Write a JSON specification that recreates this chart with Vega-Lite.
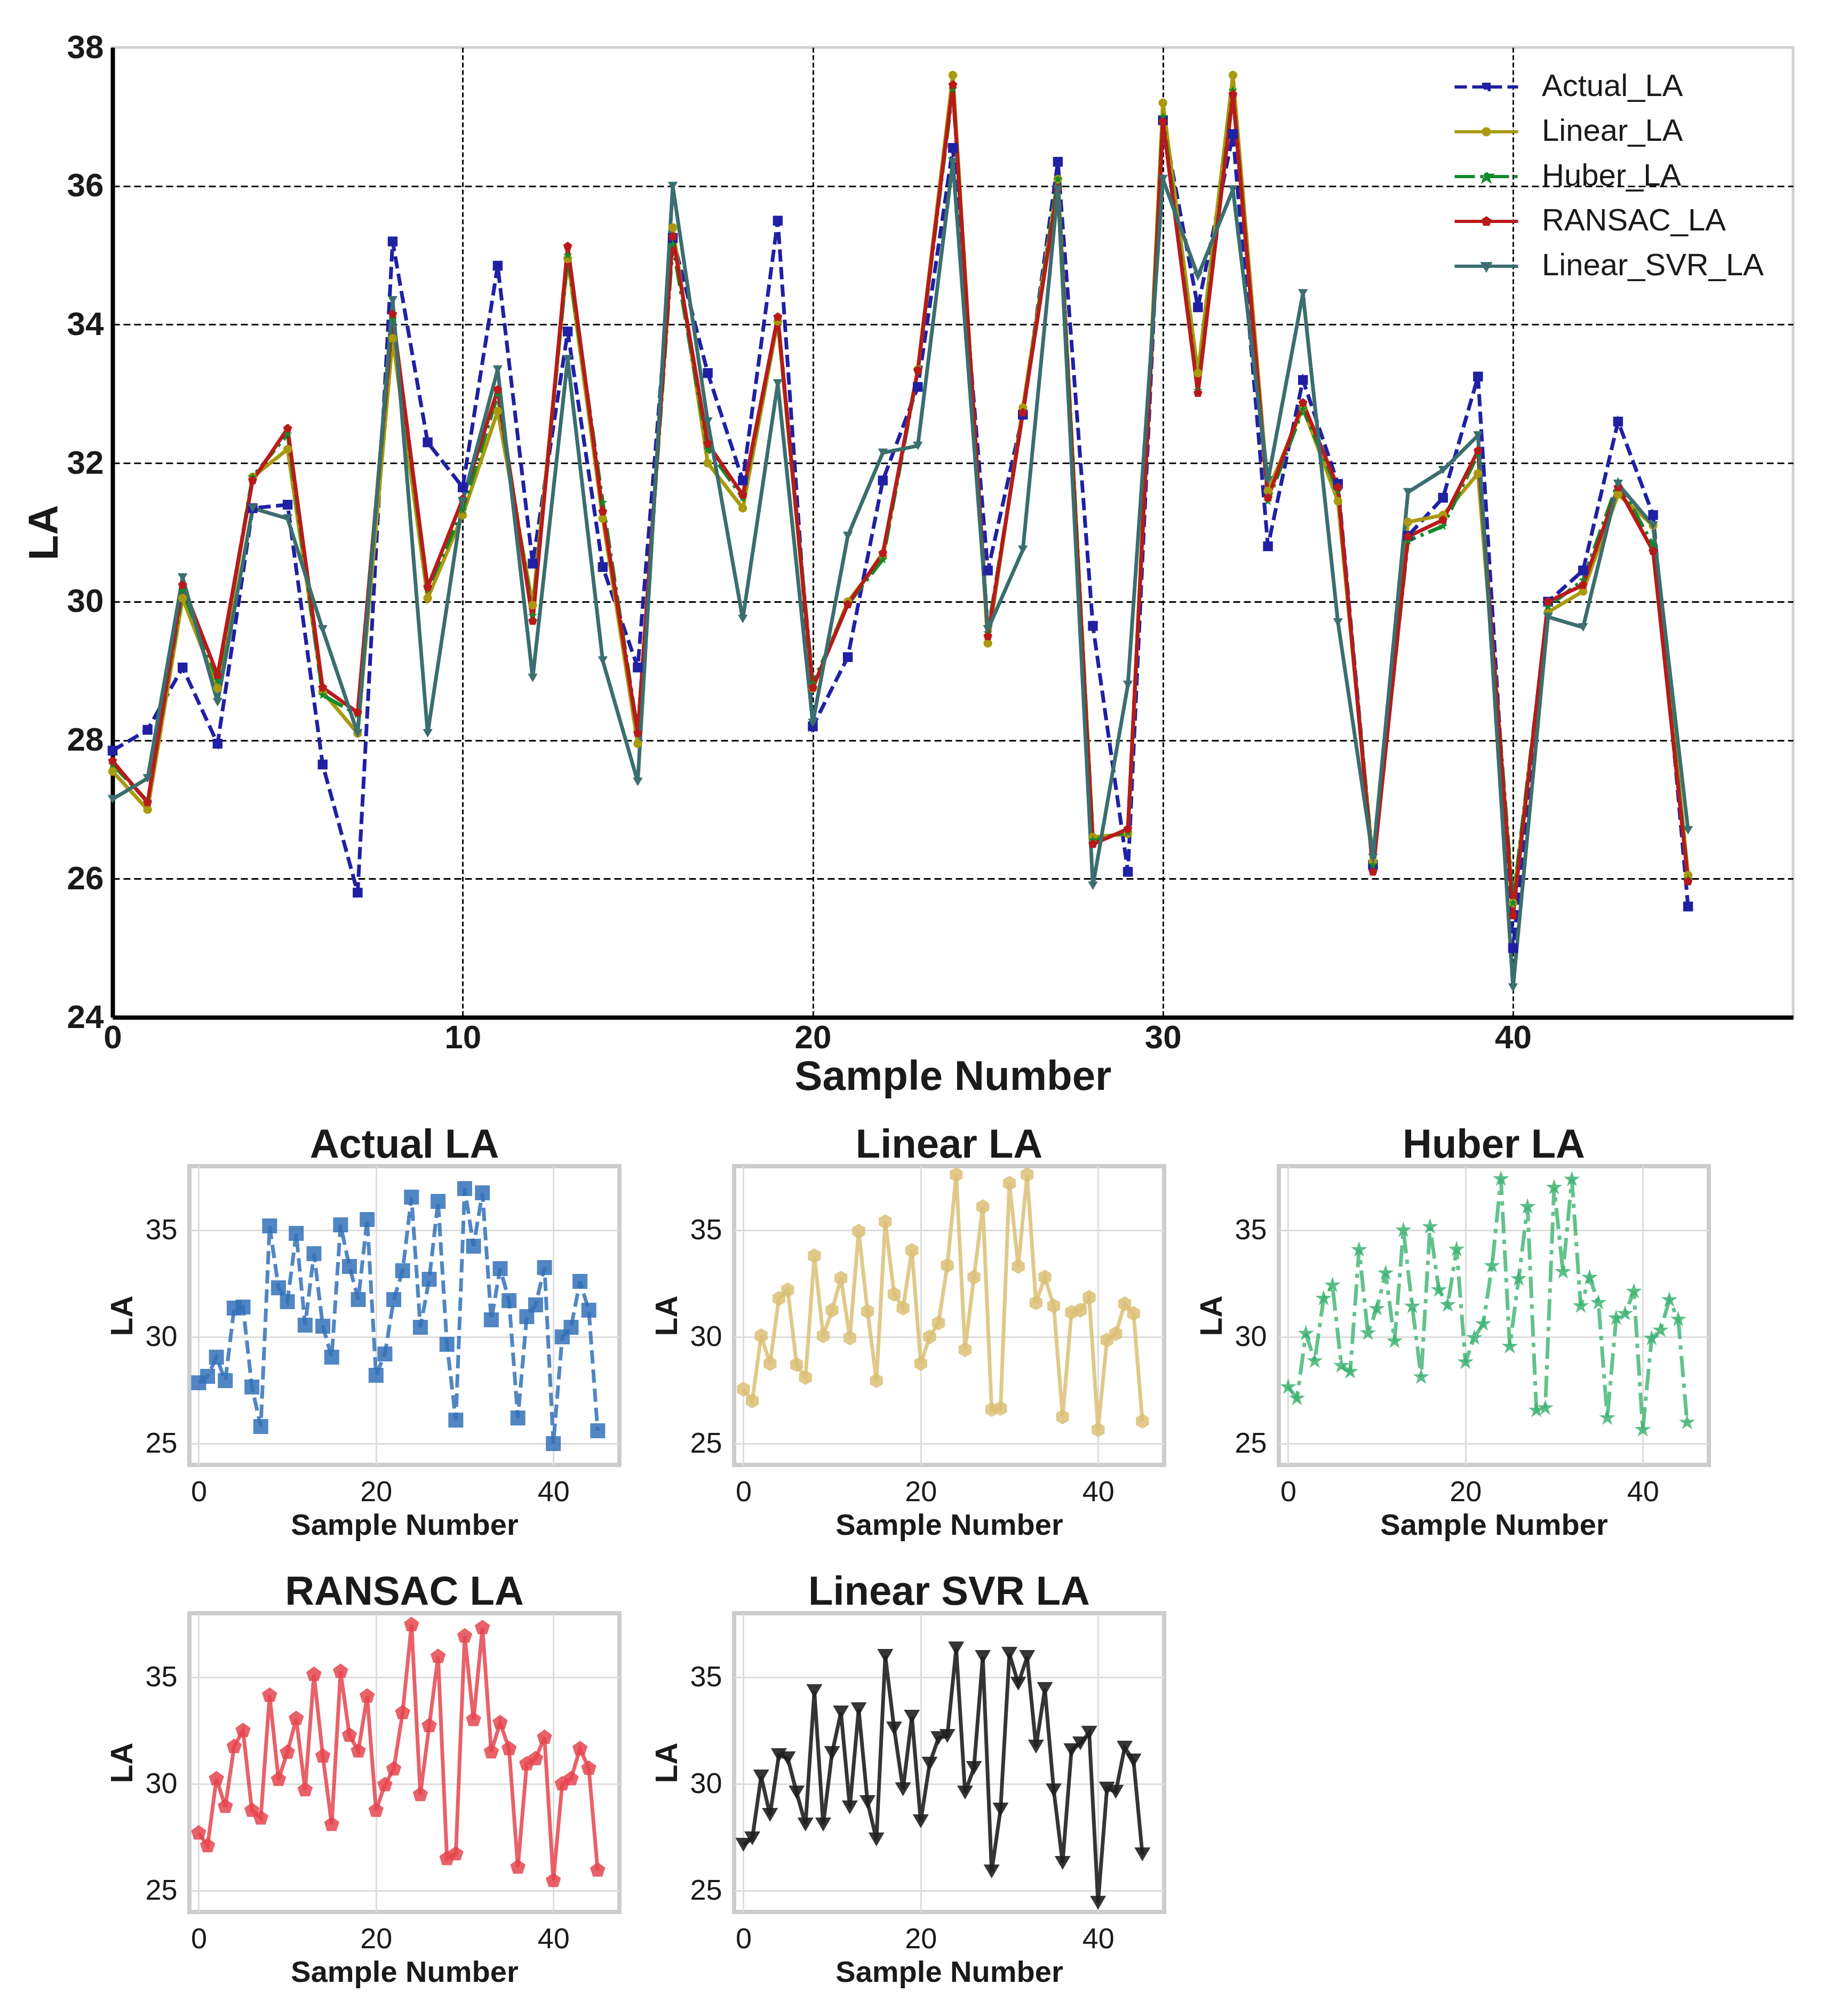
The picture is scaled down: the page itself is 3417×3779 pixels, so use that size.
{
  "$schema": "https://vega.github.io/schema/vega-lite/v6.json",
  "background": "white",
  "padding": {"left": 42, "top": 55, "right": 10, "bottom": 10},
  "config": {"font": "Liberation Sans"},
  "datasets": {
    "la": [
      {"sample":0,"model":"Actual_LA","LA":27.85},{"sample":1,"model":"Actual_LA","LA":28.15},{"sample":2,"model":"Actual_LA","LA":29.05},{"sample":3,"model":"Actual_LA","LA":27.95},{"sample":4,"model":"Actual_LA","LA":31.35},{"sample":5,"model":"Actual_LA","LA":31.4},{"sample":6,"model":"Actual_LA","LA":27.65},{"sample":7,"model":"Actual_LA","LA":25.8},{"sample":8,"model":"Actual_LA","LA":35.2},{"sample":9,"model":"Actual_LA","LA":32.3},{"sample":10,"model":"Actual_LA","LA":31.65},{"sample":11,"model":"Actual_LA","LA":34.85},{"sample":12,"model":"Actual_LA","LA":30.55},{"sample":13,"model":"Actual_LA","LA":33.9},{"sample":14,"model":"Actual_LA","LA":30.5},{"sample":15,"model":"Actual_LA","LA":29.05},{"sample":16,"model":"Actual_LA","LA":35.25},{"sample":17,"model":"Actual_LA","LA":33.3},{"sample":18,"model":"Actual_LA","LA":31.75},{"sample":19,"model":"Actual_LA","LA":35.5},{"sample":20,"model":"Actual_LA","LA":28.2},{"sample":21,"model":"Actual_LA","LA":29.2},{"sample":22,"model":"Actual_LA","LA":31.75},{"sample":23,"model":"Actual_LA","LA":33.1},{"sample":24,"model":"Actual_LA","LA":36.55},{"sample":25,"model":"Actual_LA","LA":30.45},{"sample":26,"model":"Actual_LA","LA":32.7},{"sample":27,"model":"Actual_LA","LA":36.35},{"sample":28,"model":"Actual_LA","LA":29.65},{"sample":29,"model":"Actual_LA","LA":26.1},{"sample":30,"model":"Actual_LA","LA":36.95},{"sample":31,"model":"Actual_LA","LA":34.25},{"sample":32,"model":"Actual_LA","LA":36.75},{"sample":33,"model":"Actual_LA","LA":30.8},{"sample":34,"model":"Actual_LA","LA":33.2},{"sample":35,"model":"Actual_LA","LA":31.7},{"sample":36,"model":"Actual_LA","LA":26.2},{"sample":37,"model":"Actual_LA","LA":30.95},{"sample":38,"model":"Actual_LA","LA":31.5},{"sample":39,"model":"Actual_LA","LA":33.25},{"sample":40,"model":"Actual_LA","LA":25.0},{"sample":41,"model":"Actual_LA","LA":30.0},{"sample":42,"model":"Actual_LA","LA":30.45},{"sample":43,"model":"Actual_LA","LA":32.6},{"sample":44,"model":"Actual_LA","LA":31.25},{"sample":45,"model":"Actual_LA","LA":25.6},
      {"sample":0,"model":"Linear_LA","LA":27.55},{"sample":1,"model":"Linear_LA","LA":27.0},{"sample":2,"model":"Linear_LA","LA":30.05},{"sample":3,"model":"Linear_LA","LA":28.75},{"sample":4,"model":"Linear_LA","LA":31.8},{"sample":5,"model":"Linear_LA","LA":32.2},{"sample":6,"model":"Linear_LA","LA":28.7},{"sample":7,"model":"Linear_LA","LA":28.1},{"sample":8,"model":"Linear_LA","LA":33.8},{"sample":9,"model":"Linear_LA","LA":30.05},{"sample":10,"model":"Linear_LA","LA":31.25},{"sample":11,"model":"Linear_LA","LA":32.75},{"sample":12,"model":"Linear_LA","LA":29.95},{"sample":13,"model":"Linear_LA","LA":34.95},{"sample":14,"model":"Linear_LA","LA":31.2},{"sample":15,"model":"Linear_LA","LA":27.95},{"sample":16,"model":"Linear_LA","LA":35.4},{"sample":17,"model":"Linear_LA","LA":32.0},{"sample":18,"model":"Linear_LA","LA":31.35},{"sample":19,"model":"Linear_LA","LA":34.05},{"sample":20,"model":"Linear_LA","LA":28.75},{"sample":21,"model":"Linear_LA","LA":30.0},{"sample":22,"model":"Linear_LA","LA":30.65},{"sample":23,"model":"Linear_LA","LA":33.35},{"sample":24,"model":"Linear_LA","LA":37.6},{"sample":25,"model":"Linear_LA","LA":29.4},{"sample":26,"model":"Linear_LA","LA":32.8},{"sample":27,"model":"Linear_LA","LA":36.1},{"sample":28,"model":"Linear_LA","LA":26.6},{"sample":29,"model":"Linear_LA","LA":26.65},{"sample":30,"model":"Linear_LA","LA":37.2},{"sample":31,"model":"Linear_LA","LA":33.3},{"sample":32,"model":"Linear_LA","LA":37.6},{"sample":33,"model":"Linear_LA","LA":31.6},{"sample":34,"model":"Linear_LA","LA":32.8},{"sample":35,"model":"Linear_LA","LA":31.45},{"sample":36,"model":"Linear_LA","LA":26.25},{"sample":37,"model":"Linear_LA","LA":31.15},{"sample":38,"model":"Linear_LA","LA":31.25},{"sample":39,"model":"Linear_LA","LA":31.85},{"sample":40,"model":"Linear_LA","LA":25.65},{"sample":41,"model":"Linear_LA","LA":29.85},{"sample":42,"model":"Linear_LA","LA":30.15},{"sample":43,"model":"Linear_LA","LA":31.55},{"sample":44,"model":"Linear_LA","LA":31.1},{"sample":45,"model":"Linear_LA","LA":26.05},
      {"sample":0,"model":"Huber_LA","LA":27.65},{"sample":1,"model":"Huber_LA","LA":27.12},{"sample":2,"model":"Huber_LA","LA":30.16},{"sample":3,"model":"Huber_LA","LA":28.87},{"sample":4,"model":"Huber_LA","LA":31.8},{"sample":5,"model":"Huber_LA","LA":32.42},{"sample":6,"model":"Huber_LA","LA":28.65},{"sample":7,"model":"Huber_LA","LA":28.37},{"sample":8,"model":"Huber_LA","LA":34.08},{"sample":9,"model":"Huber_LA","LA":30.18},{"sample":10,"model":"Huber_LA","LA":31.32},{"sample":11,"model":"Huber_LA","LA":32.99},{"sample":12,"model":"Huber_LA","LA":29.8},{"sample":13,"model":"Huber_LA","LA":35.0},{"sample":14,"model":"Huber_LA","LA":31.43},{"sample":15,"model":"Huber_LA","LA":28.12},{"sample":16,"model":"Huber_LA","LA":35.16},{"sample":17,"model":"Huber_LA","LA":32.2},{"sample":18,"model":"Huber_LA","LA":31.5},{"sample":19,"model":"Huber_LA","LA":34.1},{"sample":20,"model":"Huber_LA","LA":28.82},{"sample":21,"model":"Huber_LA","LA":29.96},{"sample":22,"model":"Huber_LA","LA":30.61},{"sample":23,"model":"Huber_LA","LA":33.33},{"sample":24,"model":"Huber_LA","LA":37.4},{"sample":25,"model":"Huber_LA","LA":29.55},{"sample":26,"model":"Huber_LA","LA":32.72},{"sample":27,"model":"Huber_LA","LA":36.1},{"sample":28,"model":"Huber_LA","LA":26.56},{"sample":29,"model":"Huber_LA","LA":26.67},{"sample":30,"model":"Huber_LA","LA":37.0},{"sample":31,"model":"Huber_LA","LA":33.05},{"sample":32,"model":"Huber_LA","LA":37.38},{"sample":33,"model":"Huber_LA","LA":31.45},{"sample":34,"model":"Huber_LA","LA":32.78},{"sample":35,"model":"Huber_LA","LA":31.6},{"sample":36,"model":"Huber_LA","LA":26.2},{"sample":37,"model":"Huber_LA","LA":30.88},{"sample":38,"model":"Huber_LA","LA":31.09},{"sample":39,"model":"Huber_LA","LA":32.13},{"sample":40,"model":"Huber_LA","LA":25.65},{"sample":41,"model":"Huber_LA","LA":29.93},{"sample":42,"model":"Huber_LA","LA":30.31},{"sample":43,"model":"Huber_LA","LA":31.73},{"sample":44,"model":"Huber_LA","LA":30.82},{"sample":45,"model":"Huber_LA","LA":25.99},
      {"sample":0,"model":"RANSAC_LA","LA":27.7},{"sample":1,"model":"RANSAC_LA","LA":27.1},{"sample":2,"model":"RANSAC_LA","LA":30.24},{"sample":3,"model":"RANSAC_LA","LA":28.94},{"sample":4,"model":"RANSAC_LA","LA":31.75},{"sample":5,"model":"RANSAC_LA","LA":32.5},{"sample":6,"model":"RANSAC_LA","LA":28.76},{"sample":7,"model":"RANSAC_LA","LA":28.4},{"sample":8,"model":"RANSAC_LA","LA":34.15},{"sample":9,"model":"RANSAC_LA","LA":30.21},{"sample":10,"model":"RANSAC_LA","LA":31.48},{"sample":11,"model":"RANSAC_LA","LA":33.06},{"sample":12,"model":"RANSAC_LA","LA":29.72},{"sample":13,"model":"RANSAC_LA","LA":35.13},{"sample":14,"model":"RANSAC_LA","LA":31.3},{"sample":15,"model":"RANSAC_LA","LA":28.1},{"sample":16,"model":"RANSAC_LA","LA":35.27},{"sample":17,"model":"RANSAC_LA","LA":32.28},{"sample":18,"model":"RANSAC_LA","LA":31.54},{"sample":19,"model":"RANSAC_LA","LA":34.11},{"sample":20,"model":"RANSAC_LA","LA":28.76},{"sample":21,"model":"RANSAC_LA","LA":29.96},{"sample":22,"model":"RANSAC_LA","LA":30.7},{"sample":23,"model":"RANSAC_LA","LA":33.34},{"sample":24,"model":"RANSAC_LA","LA":37.46},{"sample":25,"model":"RANSAC_LA","LA":29.5},{"sample":26,"model":"RANSAC_LA","LA":32.73},{"sample":27,"model":"RANSAC_LA","LA":35.97},{"sample":28,"model":"RANSAC_LA","LA":26.5},{"sample":29,"model":"RANSAC_LA","LA":26.72},{"sample":30,"model":"RANSAC_LA","LA":36.93},{"sample":31,"model":"RANSAC_LA","LA":33.01},{"sample":32,"model":"RANSAC_LA","LA":37.32},{"sample":33,"model":"RANSAC_LA","LA":31.5},{"sample":34,"model":"RANSAC_LA","LA":32.87},{"sample":35,"model":"RANSAC_LA","LA":31.65},{"sample":36,"model":"RANSAC_LA","LA":26.1},{"sample":37,"model":"RANSAC_LA","LA":30.94},{"sample":38,"model":"RANSAC_LA","LA":31.18},{"sample":39,"model":"RANSAC_LA","LA":32.18},{"sample":40,"model":"RANSAC_LA","LA":25.47},{"sample":41,"model":"RANSAC_LA","LA":30.0},{"sample":42,"model":"RANSAC_LA","LA":30.24},{"sample":43,"model":"RANSAC_LA","LA":31.65},{"sample":44,"model":"RANSAC_LA","LA":30.73},{"sample":45,"model":"RANSAC_LA","LA":25.96},
      {"sample":0,"model":"Linear_SVR_LA","LA":27.15},{"sample":1,"model":"Linear_SVR_LA","LA":27.45},{"sample":2,"model":"Linear_SVR_LA","LA":30.35},{"sample":3,"model":"Linear_SVR_LA","LA":28.55},{"sample":4,"model":"Linear_SVR_LA","LA":31.35},{"sample":5,"model":"Linear_SVR_LA","LA":31.2},{"sample":6,"model":"Linear_SVR_LA","LA":29.6},{"sample":7,"model":"Linear_SVR_LA","LA":28.1},{"sample":8,"model":"Linear_SVR_LA","LA":34.35},{"sample":9,"model":"Linear_SVR_LA","LA":28.1},{"sample":10,"model":"Linear_SVR_LA","LA":31.45},{"sample":11,"model":"Linear_SVR_LA","LA":33.35},{"sample":12,"model":"Linear_SVR_LA","LA":28.9},{"sample":13,"model":"Linear_SVR_LA","LA":33.5},{"sample":14,"model":"Linear_SVR_LA","LA":29.15},{"sample":15,"model":"Linear_SVR_LA","LA":27.4},{"sample":16,"model":"Linear_SVR_LA","LA":36.0},{"sample":17,"model":"Linear_SVR_LA","LA":32.6},{"sample":18,"model":"Linear_SVR_LA","LA":29.75},{"sample":19,"model":"Linear_SVR_LA","LA":33.15},{"sample":20,"model":"Linear_SVR_LA","LA":28.25},{"sample":21,"model":"Linear_SVR_LA","LA":30.95},{"sample":22,"model":"Linear_SVR_LA","LA":32.15},{"sample":23,"model":"Linear_SVR_LA","LA":32.25},{"sample":24,"model":"Linear_SVR_LA","LA":36.35},{"sample":25,"model":"Linear_SVR_LA","LA":29.6},{"sample":26,"model":"Linear_SVR_LA","LA":30.75},{"sample":27,"model":"Linear_SVR_LA","LA":35.95},{"sample":28,"model":"Linear_SVR_LA","LA":25.9},{"sample":29,"model":"Linear_SVR_LA","LA":28.8},{"sample":30,"model":"Linear_SVR_LA","LA":36.1},{"sample":31,"model":"Linear_SVR_LA","LA":34.7},{"sample":32,"model":"Linear_SVR_LA","LA":35.95},{"sample":33,"model":"Linear_SVR_LA","LA":31.75},{"sample":34,"model":"Linear_SVR_LA","LA":34.45},{"sample":35,"model":"Linear_SVR_LA","LA":29.7},{"sample":36,"model":"Linear_SVR_LA","LA":26.3},{"sample":37,"model":"Linear_SVR_LA","LA":31.58},{"sample":38,"model":"Linear_SVR_LA","LA":31.9},{"sample":39,"model":"Linear_SVR_LA","LA":32.4},{"sample":40,"model":"Linear_SVR_LA","LA":24.43},{"sample":41,"model":"Linear_SVR_LA","LA":29.78},{"sample":42,"model":"Linear_SVR_LA","LA":29.63},{"sample":43,"model":"Linear_SVR_LA","LA":31.7},{"sample":44,"model":"Linear_SVR_LA","LA":31.1},{"sample":45,"model":"Linear_SVR_LA","LA":26.7}
    ]
  },
  "data": {"name": "la"},
  "spacing": 44,
  "vconcat": [
    {
      "width": 3150,
      "height": 1818,
      "view": {"stroke": "#d0d0d0", "strokeWidth": 5},
      "encoding": {
        "x": {"field": "sample", "type": "quantitative",
          "scale": {"domain": [0, 48], "nice": false, "zero": false},
          "axis": {"values": [0, 10, 20, 30, 40], "format": "d", "title": "Sample Number",
            "labelFont": "Liberation Sans", "labelFontWeight": "bold", "labelFontSize": 62, "labelColor": "#1a1a1a", "labelPadding": 8, "labelFlush": false,
            "ticks": false, "domain": true, "domainColor": "#000000", "domainWidth": 8,
            "grid": true, "gridColor": "#000000", "gridWidth": 3, "gridDash": [9, 5],
            "titleFont": "Liberation Sans", "titleFontWeight": "bold", "titleFontSize": 78, "titleColor": "#1a1a1a", "titlePadding": 4}},
        "y": {"field": "LA", "type": "quantitative",
          "scale": {"domain": [24, 38], "nice": false, "zero": false},
          "axis": {"values": [24, 26, 28, 30, 32, 34, 36, 38], "format": "d", "title": "LA",
            "labelFont": "Liberation Sans", "labelFontWeight": "bold", "labelFontSize": 62, "labelColor": "#1a1a1a", "labelPadding": 17,
            "ticks": false, "domain": true, "domainColor": "#000000", "domainWidth": 8,
            "grid": true, "gridColor": "#000000", "gridWidth": 3, "gridDash": [13, 7],
            "gridOpacity": {"condition": {"test": "datum.value <= 24 || datum.value >= 38", "value": 0}, "value": 1},
            "titleFont": "Liberation Sans", "titleFontWeight": "bold", "titleFontSize": 78, "titleColor": "#1a1a1a", "titlePadding": 2}}
      },
      "layer": [
        {
          "mark": {"type": "point", "filled": true, "opacity": 0, "size": 289},
          "encoding": {
            "color": {"field": "model", "type": "nominal"},
            "shape": {"field": "model", "type": "nominal",
              "scale": {"domain": ["Actual_LA", "Linear_LA", "Huber_LA", "RANSAC_LA", "Linear_SVR_LA"],
                        "range": ["M-7,0H7M-0.6,-0.6H0.6V0.6H-0.6Z",
                                  "M-7,0H7M-0.65,0A0.65,0.65 0 1,0 0.65,0A0.65,0.65 0 1,0 -0.65,0Z",
                                  "M-7,0H7M0,-0.9L0.2,-0.28L0.86,-0.28L0.33,0.11L0.53,0.73L0,0.34L-0.53,0.73L-0.33,0.11L-0.86,-0.28L-0.2,-0.28Z",
                                  "M-7,0H7M0,-0.75L0.71,-0.23L0.44,0.61L-0.44,0.61L-0.71,-0.23Z",
                                  "M-7,0H7M-0.75,-0.55L0.75,-0.55L0,0.75Z"]},
              "legend": {"orient": "none", "legendX": 2546, "legendY": 45, "title": null,
                "symbolSize": 289, "symbolStrokeWidth": 6, "symbolOpacity": 1,
                "labelFont": "Liberation Sans", "labelFontSize": 58, "labelColor": "#1a1a1a", "labelOffset": 75, "labelLimit": 1000,
                "rowPadding": 26, "padding": 0}}
          }
        },
        {
          "mark": {"type": "line", "strokeWidth": 7},
          "encoding": {
            "color": {"field": "model", "type": "nominal",
              "scale": {"domain": ["Actual_LA", "Linear_LA", "Huber_LA", "RANSAC_LA", "Linear_SVR_LA"],
                        "range": ["#2020a4", "#a99a0e", "#118a2a", "#b81a1a", "#3b6e6e"]},
              "legend": {"orient": "none", "legendX": 2546, "legendY": 45, "title": null,
                "symbolSize": 289, "symbolStrokeWidth": 6, "symbolOpacity": 1,
                "labelFont": "Liberation Sans", "labelFontSize": 58, "labelColor": "#1a1a1a", "labelOffset": 75, "labelLimit": 1000,
                "rowPadding": 26, "padding": 0}},
            "strokeDash": {"field": "model", "type": "nominal",
              "scale": {"domain": ["Actual_LA", "Linear_LA", "Huber_LA", "RANSAC_LA", "Linear_SVR_LA"],
                        "range": [[23, 10], [1, 0], [38, 10, 6, 10], [1, 0], [1, 0]]},
              "legend": {"orient": "none", "legendX": 2546, "legendY": 45, "title": null,
                "symbolSize": 289, "symbolStrokeWidth": 6, "symbolOpacity": 1,
                "labelFont": "Liberation Sans", "labelFontSize": 58, "labelColor": "#1a1a1a", "labelOffset": 75, "labelLimit": 1000,
                "rowPadding": 26, "padding": 0}}
          }
        },
        {"transform": [{"filter": "datum.model === 'Actual_LA'"}], "mark": {"type": "point", "filled": true, "opacity": 1, "size": 340, "shape": "square", "color": "#2020a4"}},
        {"transform": [{"filter": "datum.model === 'Linear_LA'"}], "mark": {"type": "point", "filled": true, "opacity": 1, "size": 270, "shape": "circle", "color": "#a99a0e"}},
        {"transform": [{"filter": "datum.model === 'Huber_LA'"}], "mark": {"type": "point", "filled": true, "opacity": 1, "size": 340, "shape": "M0,-1L0.225,-0.309L0.951,-0.309L0.363,0.118L0.588,0.809L0,0.382L-0.588,0.809L-0.363,0.118L-0.951,-0.309L-0.225,-0.309Z", "color": "#118a2a"}},
        {"transform": [{"filter": "datum.model === 'RANSAC_LA'"}], "mark": {"type": "point", "filled": true, "opacity": 1, "size": 310, "shape": "M0,-1L0.951,-0.309L0.588,0.809L-0.588,0.809L-0.951,-0.309Z", "color": "#b81a1a"}},
        {"transform": [{"filter": "datum.model === 'Linear_SVR_LA'"}], "mark": {"type": "point", "filled": true, "opacity": 1, "size": 340, "shape": "triangle-down", "color": "#3b6e6e"}}
      ]
    },
    {
      "spacing": 52,
      "vconcat": [
        {
          "bounds": "flush",
          "spacing": 60,
          "hconcat": [
            {"width": 84, "height": 10, "data": {"values": []}, "mark": "point", "view": {"stroke": null}},
            {
              "bounds": "flush",
              "spacing": 215,
              "hconcat": [
                {
                  "width": 806, "height": 560,
                  "title": {"text": "Actual LA", "fontSize": 76, "fontWeight": "bold", "color": "#1a1a1a", "offset": 0},
                  "view": {"stroke": "#cccccc", "strokeWidth": 8},
                  "transform": [{"filter": "datum.model === 'Actual_LA'"}],
                  "encoding": {
                    "x": {"field": "sample", "type": "quantitative", "scale": {"domain": [-1.05, 47.45], "nice": false, "zero": false},
                      "axis": {"values": [0, 20, 40], "format": "d", "title": "Sample Number", "labelFontSize": 54, "labelColor": "#1a1a1a", "labelPadding": 24, "labelFlush": false, "ticks": false, "domain": false, "grid": true, "gridColor": "#dddddd", "gridWidth": 3, "titleFontSize": 56, "titleFontWeight": "bold", "titleColor": "#1a1a1a", "titlePadding": 8}},
                    "y": {"field": "LA", "type": "quantitative", "scale": {"domain": [24, 38], "nice": false, "zero": false},
                      "axis": {"values": [25, 30, 35], "format": "d", "title": "LA", "labelFontSize": 54, "labelColor": "#1a1a1a", "labelPadding": 23, "ticks": false, "domain": false, "grid": true, "gridColor": "#dddddd", "gridWidth": 3, "titleFontSize": 57, "titleFontWeight": "bold", "titleColor": "#1a1a1a", "titlePadding": 12}}
                  },
                  "layer": [
                    {"mark": {"type": "line", "color": "#3371b8", "strokeWidth": 7, "strokeDash": [25, 11], "opacity": 0.85}},
                    {"mark": {"type": "point", "filled": true, "shape": "square", "size": 784, "color": "#3371b8", "opacity": 0.85}}
                  ]
                },
                {
                  "width": 806, "height": 560,
                  "title": {"text": "Linear LA", "fontSize": 76, "fontWeight": "bold", "color": "#1a1a1a", "offset": 0},
                  "view": {"stroke": "#cccccc", "strokeWidth": 8},
                  "transform": [{"filter": "datum.model === 'Linear_LA'"}],
                  "encoding": {
                    "x": {"field": "sample", "type": "quantitative", "scale": {"domain": [-1.05, 47.45], "nice": false, "zero": false},
                      "axis": {"values": [0, 20, 40], "format": "d", "title": "Sample Number", "labelFontSize": 54, "labelColor": "#1a1a1a", "labelPadding": 24, "labelFlush": false, "ticks": false, "domain": false, "grid": true, "gridColor": "#dddddd", "gridWidth": 3, "titleFontSize": 56, "titleFontWeight": "bold", "titleColor": "#1a1a1a", "titlePadding": 8}},
                    "y": {"field": "LA", "type": "quantitative", "scale": {"domain": [24, 38], "nice": false, "zero": false},
                      "axis": {"values": [25, 30, 35], "format": "d", "title": "LA", "labelFontSize": 54, "labelColor": "#1a1a1a", "labelPadding": 23, "ticks": false, "domain": false, "grid": true, "gridColor": "#dddddd", "gridWidth": 3, "titleFontSize": 57, "titleFontWeight": "bold", "titleColor": "#1a1a1a", "titlePadding": 12}}
                  },
                  "layer": [
                    {"mark": {"type": "line", "color": "#dabf75", "strokeWidth": 7, "opacity": 0.85}},
                    {"mark": {"type": "point", "filled": true, "shape": "M0,-1L0.866,-0.5L0.866,0.5L0,1L-0.866,0.5L-0.866,-0.5Z", "size": 784, "color": "#dabf75", "opacity": 0.85}}
                  ]
                },
                {
                  "width": 806, "height": 560,
                  "title": {"text": "Huber LA", "fontSize": 76, "fontWeight": "bold", "color": "#1a1a1a", "offset": 0},
                  "view": {"stroke": "#cccccc", "strokeWidth": 8},
                  "transform": [{"filter": "datum.model === 'Huber_LA'"}],
                  "encoding": {
                    "x": {"field": "sample", "type": "quantitative", "scale": {"domain": [-1.05, 47.45], "nice": false, "zero": false},
                      "axis": {"values": [0, 20, 40], "format": "d", "title": "Sample Number", "labelFontSize": 54, "labelColor": "#1a1a1a", "labelPadding": 24, "labelFlush": false, "ticks": false, "domain": false, "grid": true, "gridColor": "#dddddd", "gridWidth": 3, "titleFontSize": 56, "titleFontWeight": "bold", "titleColor": "#1a1a1a", "titlePadding": 8}},
                    "y": {"field": "LA", "type": "quantitative", "scale": {"domain": [24, 38], "nice": false, "zero": false},
                      "axis": {"values": [25, 30, 35], "format": "d", "title": "LA", "labelFontSize": 54, "labelColor": "#1a1a1a", "labelPadding": 23, "ticks": false, "domain": false, "grid": true, "gridColor": "#dddddd", "gridWidth": 3, "titleFontSize": 57, "titleFontWeight": "bold", "titleColor": "#1a1a1a", "titlePadding": 12}}
                  },
                  "layer": [
                    {"mark": {"type": "line", "color": "#3cb371", "strokeWidth": 7, "strokeDash": [40, 12, 8, 12], "opacity": 0.8}},
                    {"mark": {"type": "point", "filled": true, "shape": "M0,-1L0.225,-0.309L0.951,-0.309L0.363,0.118L0.588,0.809L0,0.382L-0.588,0.809L-0.363,0.118L-0.951,-0.309L-0.225,-0.309Z", "size": 1024, "color": "#3cb371", "opacity": 0.85}}
                  ]
                }
              ]
            }
          ]
        },
        {
          "bounds": "flush",
          "spacing": 60,
          "hconcat": [
            {"width": 84, "height": 10, "data": {"values": []}, "mark": "point", "view": {"stroke": null}},
            {
              "bounds": "flush",
              "spacing": 215,
              "hconcat": [
                {
                  "width": 806, "height": 560,
                  "title": {"text": "RANSAC LA", "fontSize": 76, "fontWeight": "bold", "color": "#1a1a1a", "offset": 0},
                  "view": {"stroke": "#cccccc", "strokeWidth": 8},
                  "transform": [{"filter": "datum.model === 'RANSAC_LA'"}],
                  "encoding": {
                    "x": {"field": "sample", "type": "quantitative", "scale": {"domain": [-1.05, 47.45], "nice": false, "zero": false},
                      "axis": {"values": [0, 20, 40], "format": "d", "title": "Sample Number", "labelFontSize": 54, "labelColor": "#1a1a1a", "labelPadding": 24, "labelFlush": false, "ticks": false, "domain": false, "grid": true, "gridColor": "#dddddd", "gridWidth": 3, "titleFontSize": 56, "titleFontWeight": "bold", "titleColor": "#1a1a1a", "titlePadding": 8}},
                    "y": {"field": "LA", "type": "quantitative", "scale": {"domain": [24, 38], "nice": false, "zero": false},
                      "axis": {"values": [25, 30, 35], "format": "d", "title": "LA", "labelFontSize": 54, "labelColor": "#1a1a1a", "labelPadding": 23, "ticks": false, "domain": false, "grid": true, "gridColor": "#dddddd", "gridWidth": 3, "titleFontSize": 57, "titleFontWeight": "bold", "titleColor": "#1a1a1a", "titlePadding": 12}}
                  },
                  "layer": [
                    {"mark": {"type": "line", "color": "#e5454f", "strokeWidth": 7, "opacity": 0.85}},
                    {"mark": {"type": "point", "filled": true, "shape": "M0,-1L0.951,-0.309L0.588,0.809L-0.588,0.809L-0.951,-0.309Z", "size": 900, "color": "#e5454f", "opacity": 0.85}}
                  ]
                },
                {
                  "width": 806, "height": 560,
                  "title": {"text": "Linear SVR LA", "fontSize": 76, "fontWeight": "bold", "color": "#1a1a1a", "offset": 0},
                  "view": {"stroke": "#cccccc", "strokeWidth": 8},
                  "transform": [{"filter": "datum.model === 'Linear_SVR_LA'"}],
                  "encoding": {
                    "x": {"field": "sample", "type": "quantitative", "scale": {"domain": [-1.05, 47.45], "nice": false, "zero": false},
                      "axis": {"values": [0, 20, 40], "format": "d", "title": "Sample Number", "labelFontSize": 54, "labelColor": "#1a1a1a", "labelPadding": 24, "labelFlush": false, "ticks": false, "domain": false, "grid": true, "gridColor": "#dddddd", "gridWidth": 3, "titleFontSize": 56, "titleFontWeight": "bold", "titleColor": "#1a1a1a", "titlePadding": 8}},
                    "y": {"field": "LA", "type": "quantitative", "scale": {"domain": [24, 38], "nice": false, "zero": false},
                      "axis": {"values": [25, 30, 35], "format": "d", "title": "LA", "labelFontSize": 54, "labelColor": "#1a1a1a", "labelPadding": 23, "ticks": false, "domain": false, "grid": true, "gridColor": "#dddddd", "gridWidth": 3, "titleFontSize": 57, "titleFontWeight": "bold", "titleColor": "#1a1a1a", "titlePadding": 12}}
                  },
                  "layer": [
                    {"mark": {"type": "line", "color": "#1f1f1f", "strokeWidth": 7, "opacity": 0.9}},
                    {"mark": {"type": "point", "filled": true, "shape": "triangle-down", "size": 900, "color": "#1f1f1f", "opacity": 0.9}}
                  ]
                }
              ]
            }
          ]
        }
      ]
    }
  ]
}
